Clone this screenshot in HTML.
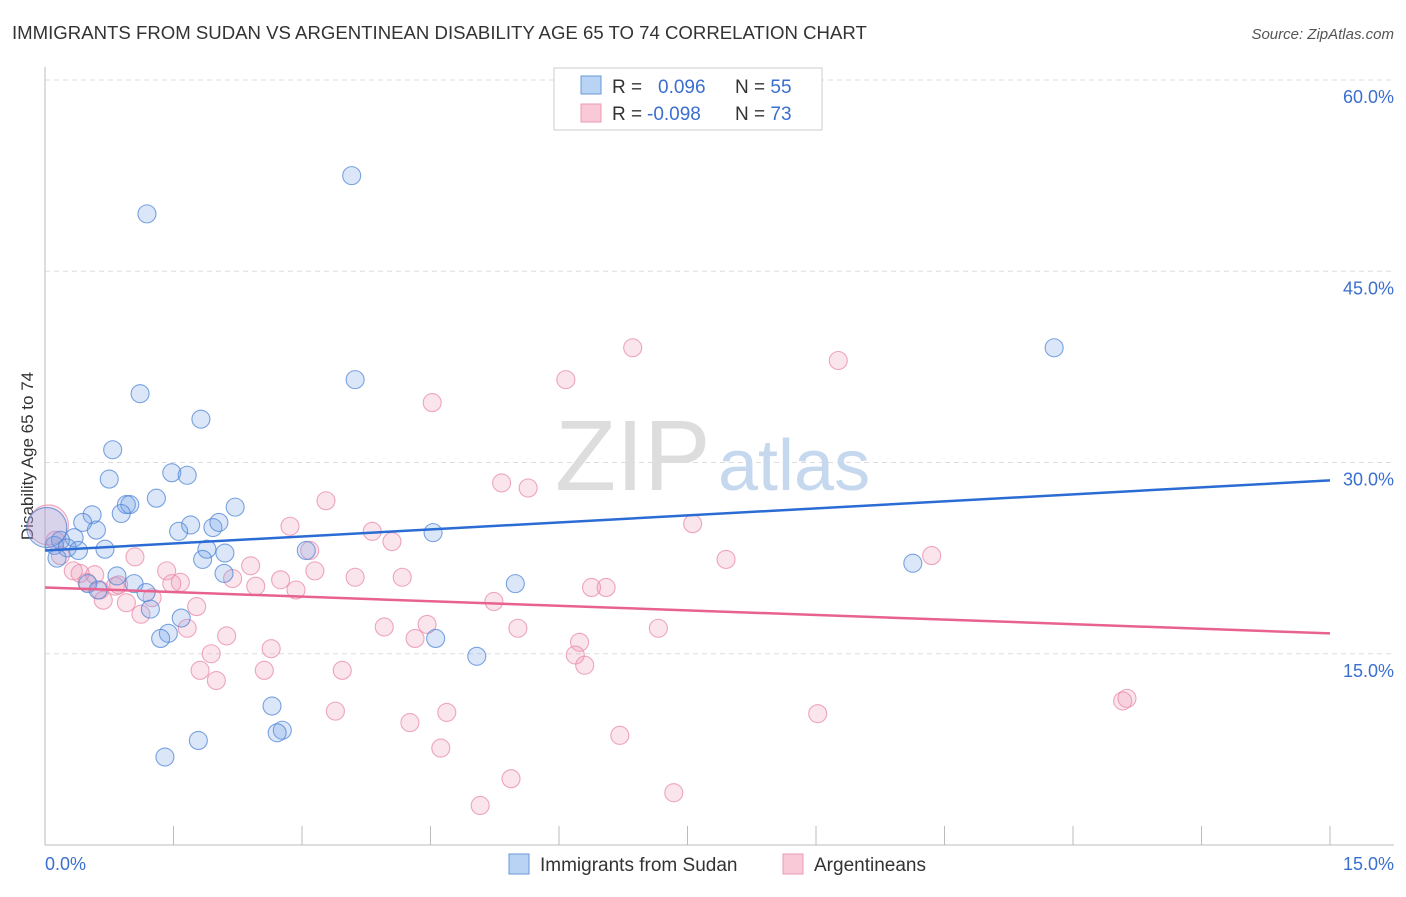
<!DOCTYPE html>
<html><head><meta charset="utf-8"><style>
body{margin:0;background:#fff;font-family:"Liberation Sans",sans-serif;}
svg text{font-family:"Liberation Sans",sans-serif;}
</style></head><body>
<svg id="chart" width="1406" height="892" xmlns="http://www.w3.org/2000/svg">
<text x="12" y="39" font-size="18.6" fill="#333">IMMIGRANTS FROM SUDAN VS ARGENTINEAN DISABILITY AGE 65 TO 74 CORRELATION CHART</text>
<text x="1394" y="39" font-size="15" fill="#555" font-style="italic" text-anchor="end">Source: ZipAtlas.com</text>
<text x="0" y="0" transform="translate(33,456) rotate(-90)" font-size="17" fill="#333" text-anchor="middle">Disability Age 65 to 74</text>
<g id="grid"></g>
<g id="ticks"></g>
<text x="555" y="490" font-size="100" fill="#ddd" font-family="Liberation Serif">ZIP</text>
<text x="718" y="490" font-size="72" fill="#c5d8ee">atlas</text>
<g id="pts"></g>
<g id="lines"></g>
<g>
<rect x="554" y="68" width="268" height="62" fill="#fff" stroke="#ccc"/>
<rect x="581" y="76" width="20" height="18" fill="#b9d3f5" stroke="#6a9ad8"/>
<rect x="581" y="104" width="20" height="18" fill="#f9c9d8" stroke="#eb9ab3"/>
<text x="612" y="93" font-size="19" fill="#333">R = <tspan fill="#3a6fd0" x="658">0.096</tspan><tspan x="735" fill="#333">N = </tspan><tspan fill="#3a6fd0">55</tspan></text>
<text x="612" y="120" font-size="19" fill="#333">R = <tspan fill="#3a6fd0" x="647">-0.098</tspan><tspan x="735" fill="#333">N = </tspan><tspan fill="#3a6fd0">73</tspan></text>
</g>
<g>
<rect x="509" y="854" width="20" height="20" fill="#b9d3f5" stroke="#6a9ad8"/>
<text x="540" y="871" font-size="19" fill="#333">Immigrants from Sudan</text>
<rect x="783" y="854" width="20" height="20" fill="#f9c9d8" stroke="#eb9ab3"/>
<text x="814" y="871" font-size="19" fill="#333">Argentineans</text>
</g>
</svg>
<script>
const xTicks=[0,1.5,3,4.5,6,7.5,9,10.5,12,13.5,15];
const yTicks=[15,30,45,60];
const yTickLabels=["15.0%","30.0%","45.0%","60.0%"];
const blueX=[1.19,3.58,1.11,3.62,1.82,0.79,1.48,1.66,0.75,11.78,1.30,0.95,0.99,2.22,0.55,0.89,0.44,1.70,1.96,2.03,1.56,0.60,4.53,0.34,0.18,0.11,0.26,0.70,1.89,0.39,2.10,3.05,0.14,1.84,10.13,2.09,0.84,1.04,5.49,0.50,0.62,1.18,1.23,1.59,1.44,1.35,4.56,5.04,2.65,2.77,2.71,1.79,1.40,0.02];
const blueY=[49.5,52.5,35.4,36.5,33.4,31.0,29.2,29.0,28.7,39.0,27.2,26.7,26.7,26.5,25.9,26.0,25.3,25.1,24.9,25.3,24.6,24.7,24.5,24.1,23.9,23.5,23.3,23.2,23.2,23.1,22.9,23.1,22.5,22.4,22.1,21.3,21.1,20.5,20.5,20.5,20.0,19.8,18.5,17.8,16.6,16.2,16.2,14.8,10.9,9.0,8.8,8.2,6.9,24.9];
const pinkX=[6.86,9.26,6.08,4.52,5.33,5.64,3.28,7.56,2.86,10.35,3.82,4.05,3.09,7.95,1.05,2.40,1.42,0.41,0.33,3.62,3.15,4.17,2.75,1.58,1.48,2.19,0.12,0.18,0.04,0.82,2.46,2.93,0.86,6.38,6.55,1.25,0.68,0.95,1.77,5.24,1.12,1.66,3.96,5.52,4.46,7.16,4.32,2.12,6.24,1.94,2.64,6.19,6.30,2.56,3.47,1.81,2.00,12.58,12.63,3.39,4.69,4.26,9.02,6.71,4.62,5.44,7.34,5.08,0.49,0.64,0.58];
const pinkY=[39.0,38.0,36.5,34.7,28.4,28.0,27.0,25.2,25.0,22.7,24.6,23.8,23.1,22.4,22.6,21.9,21.5,21.3,21.5,21.0,21.5,21.0,20.8,20.6,20.5,20.9,23.9,22.7,25.1,20.3,20.3,20.0,20.4,20.2,20.2,19.4,19.2,19.0,18.7,19.1,18.1,17.0,17.1,17.0,17.3,17.0,16.2,16.4,15.9,15.0,15.4,14.9,14.1,13.7,13.7,13.7,12.9,11.3,11.5,10.5,10.4,9.6,10.3,8.6,7.6,5.2,4.1,3.1,20.6,20.0,21.2];
const blueTrend=[23.1,28.6];
const pinkTrend=[20.2,16.6];
const NS="http://www.w3.org/2000/svg";
const X=v=>45+v/15*1285;
const Y=v=>845-v*12.75;
function mk(tag,attrs,parent){const e=document.createElementNS(NS,tag);for(const k in attrs)e.setAttribute(k,attrs[k]);parent.appendChild(e);return e;}
const grid=document.getElementById('grid'),ticks=document.getElementById('ticks');
yTicks.forEach((t,i)=>{
  const l=mk('line',{x1:45,x2:1394,y1:Y(t),y2:Y(t),stroke:'#ddd','stroke-dasharray':'5,4'},grid);
  
  
  const tx=mk('text',{x:1394,y:Y(t)+23,'font-size':18,fill:'#3a6fd0','text-anchor':'end'},ticks);
  tx.textContent=yTickLabels[i];
  
  
});
const ax=mk('line',{x1:45,x2:45,y1:67,y2:845,stroke:'#bbb'},ticks);


const bx=mk('line',{x1:45,x2:1394,y1:845,y2:845,stroke:'#bbb'},ticks);


xTicks.forEach(t=>{
  const l=mk('line',{x1:X(t),x2:X(t),y1:826,y2:845,stroke:'#bbb'},ticks);
  
  
});
const xl0=mk('text',{x:45,y:870,'font-size':18,fill:'#3a6fd0'},ticks);xl0.textContent='0.0%';


const xl1=mk('text',{x:1394,y:870,'font-size':18,fill:'#3a6fd0','text-anchor':'end'},ticks);xl1.textContent='15.0%';


const pts=document.getElementById('pts');
function drawPts(xs,ys,fill,stroke,name){
  xs.forEach((x,i)=>{
    const big=(x<0.05);
    const c=mk('circle',{cx:X(x),cy:Y(ys[i]),r:big?20:9,fill:fill,stroke:stroke,'stroke-width':1.1},pts);
    
    
  });
}
drawPts(pinkX,pinkY,'rgba(240,150,180,0.25)','rgba(232,138,168,0.75)','point-argentineans');
drawPts(blueX,blueY,'rgba(110,160,230,0.25)','rgba(79,134,214,0.75)','point-sudan');
const lines=document.getElementById('lines');
const bl=mk('line',{x1:X(0),y1:Y(blueTrend[0]),x2:X(15),y2:Y(blueTrend[1]),stroke:'#2a6cd4','stroke-width':2.5},lines);


const pl=mk('line',{x1:X(0),y1:Y(pinkTrend[0]),x2:X(15),y2:Y(pinkTrend[1]),stroke:'#e8628f','stroke-width':2.5},lines);


</script>
</body></html>
